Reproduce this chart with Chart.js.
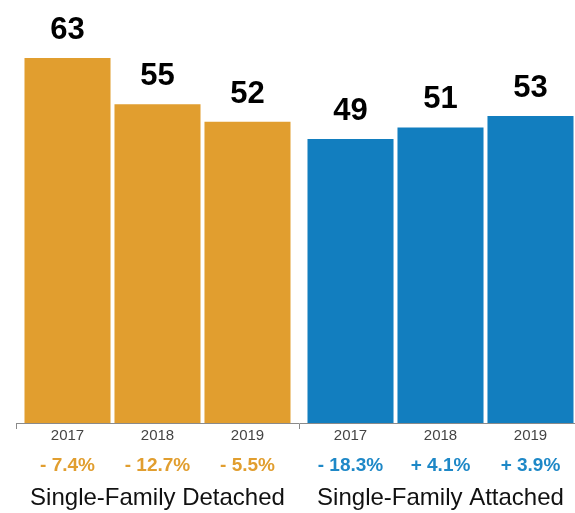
<!DOCTYPE html>
<html>
<head>
<meta charset="utf-8">
<script src="https://cdn.jsdelivr.net/npm/chart.js@4.4.1/dist/chart.umd.min.js"></script>
<style>
  html, body { margin: 0; padding: 0; background: #fff; overflow: hidden; }
  #wrap { width: 582px; height: 513px; }
</style>
</head>
<body>
<div id="wrap"><canvas id="chart" width="582" height="513"></canvas></div>
<script>
// categories and values
const groups = ['Single-Family Detached', 'Single-Family Attached'];
const years = ['2017', '2018', '2019'];
const detached = [63, 55, 52];
const attached = [49, 51, 53];
const detachedChange = ['- 7.4%', '- 12.7%', '- 5.5%'];
const attachedChange = ['- 18.3%', '+ 4.1%', '+ 3.9%'];

const orange = '#E19E2F';
const blue = '#127EBF';
const orangeText = '#E19E2F';
const blueText = '#1E88C7';
const yMax = 73;

const FONT = '"Liberation Sans", Arial, Helvetica, sans-serif';

// one dataset per year, coloured by group
const datasets = years.map((y, i) => ({
    label: y,
    data: [detached[i], attached[i]],
    backgroundColor: [orange, blue],
    barPercentage: 0.956,
    categoryPercentage: 0.954,
}));

const labelPlugin = {
    id: 'barLabels',
    afterDatasetsDraw(chart) {
        const ctx = chart.ctx;
        const bottom = chart.chartArea.bottom;
        const xScale = chart.scales.x;
        ctx.save();
        ctx.textAlign = 'center';
        chart.data.datasets.forEach((ds, i) => {
            const meta = chart.getDatasetMeta(i);
            meta.data.forEach((bar, j) => {
                // value above bar
                ctx.fillStyle = '#000';
                ctx.font = 'bold 31px ' + FONT;
                ctx.textBaseline = 'alphabetic';
                ctx.fillText(String(ds.data[j]), bar.x, bar.y - 19);
                // year under axis
                ctx.fillStyle = '#444';
                ctx.font = '15px ' + FONT;
                ctx.textBaseline = 'middle';
                ctx.fillText(years[i], bar.x, bottom + 13);
                // change
                const change = j === 0 ? detachedChange[i] : attachedChange[i];
                ctx.fillStyle = j === 0 ? orangeText : blueText;
                ctx.font = 'bold 19px ' + FONT;
                ctx.fillText(change, bar.x, bottom + 43);
            });
        });
        // group names
        ctx.fillStyle = '#111';
        ctx.font = '24px ' + FONT;
        ctx.textBaseline = 'middle';
        groups.forEach((g, j) => {
            ctx.fillText(g, xScale.getPixelForValue(j), bottom + 75);
        });
        ctx.restore();
    }
};

new Chart(document.getElementById('chart').getContext('2d'), {
    type: 'bar',
    data: { labels: groups, datasets: datasets },
    options: {
        responsive: false,
        animation: false,
        layout: { padding: { left: 16, right: 0, top: 0, bottom: 84 } },
        plugins: {
            legend: { display: false },
            tooltip: { enabled: false },
        },
        scales: {
            x: {
                border: { color: '#8a8a8a', width: 1 },
                grid: {
                    offset: true,
                    drawOnChartArea: false,
                    drawTicks: true,
                    tickLength: 6,
                    color: '#8a8a8a',
                },
                ticks: { display: false },
            },
            y: {
                display: false,
                min: 0,
                max: yMax,
            },
        },
    },
    plugins: [labelPlugin],
});
</script>
</body>
</html>
